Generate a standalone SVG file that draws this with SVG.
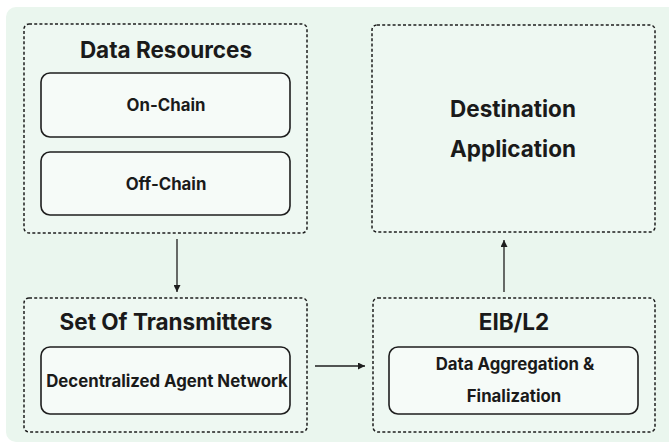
<svg xmlns="http://www.w3.org/2000/svg" width="669" height="445" viewBox="0 0 669 445">
  <style>
    .panel { fill: #eaf6ee; }
    .group { fill: #eef8f2; stroke: #1e1e1e; stroke-width: 1.5; stroke-dasharray: 3 2.2; }
    .box { fill: #f6fbf8; stroke: #1e1e1e; stroke-width: 1.6; }
    .title { font-family: Inter, "Liberation Sans", sans-serif; font-weight: 700; font-size: 22.5px; fill: #1a1a1a; text-anchor: middle; }
    .label { font-family: Inter, "Liberation Sans", sans-serif; font-weight: 700; font-size: 16.8px; fill: #1a1a1a; text-anchor: middle; }
    .edge { stroke: #1e1e1e; stroke-width: 1.3; fill: none; }
  </style>
  <defs>
    <marker id="arrow" viewBox="0 0 10 10" refX="10" refY="5" markerWidth="7" markerHeight="7" markerUnits="userSpaceOnUse" orient="auto">
      <path d="M0,0 L10,5 L0,10 Z" fill="#1e1e1e"/>
    </marker>
  </defs>

  <rect width="669" height="445" fill="#ffffff"/>
  <rect class="panel" x="6" y="7" width="672" height="435" rx="10"/>

  <g id="data-resources">
    <rect class="group" x="24" y="24" width="283" height="209" rx="5"/>
    <text class="title" x="166" y="58">Data Resources</text>
    <g id="on-chain">
      <rect class="box" x="41" y="73" width="249" height="64" rx="9"/>
      <text class="label" x="166" y="111">On-Chain</text>
    </g>
    <g id="off-chain">
      <rect class="box" x="41" y="152" width="249" height="63" rx="9"/>
      <text class="label" x="166" y="190">Off-Chain</text>
    </g>
  </g>

  <g id="destination-application">
    <rect class="group" x="372" y="25" width="283" height="207" rx="5"/>
    <text class="title" x="513" y="117">Destination</text>
    <text class="title" x="513" y="157">Application</text>
  </g>

  <g id="set-of-transmitters">
    <rect class="group" x="24" y="298" width="283" height="134" rx="5"/>
    <text class="title" x="166" y="330">Set Of Transmitters</text>
    <g id="agent-network">
      <rect class="box" x="41" y="347" width="249" height="67" rx="9"/>
      <text class="label" x="167" y="387">Decentralized Agent Network</text>
    </g>
  </g>

  <g id="eib-l2">
    <rect class="group" x="373" y="298" width="282" height="134" rx="5"/>
    <text class="title" x="514" y="330">EIB/L2</text>
    <g id="aggregation">
      <rect class="box" x="389" y="347" width="249" height="67" rx="9"/>
      <text class="label" x="515" y="370">Data Aggregation &amp;</text>
      <text class="label" x="514" y="402">Finalization</text>
    </g>
  </g>

  <g id="connectors">
    <line class="edge" x1="177" y1="239" x2="177" y2="292" marker-end="url(#arrow)"/>
    <line class="edge" x1="315" y1="366" x2="365" y2="366" marker-end="url(#arrow)"/>
    <line class="edge" x1="504" y1="292" x2="504" y2="240" marker-end="url(#arrow)"/>
  </g>
</svg>
